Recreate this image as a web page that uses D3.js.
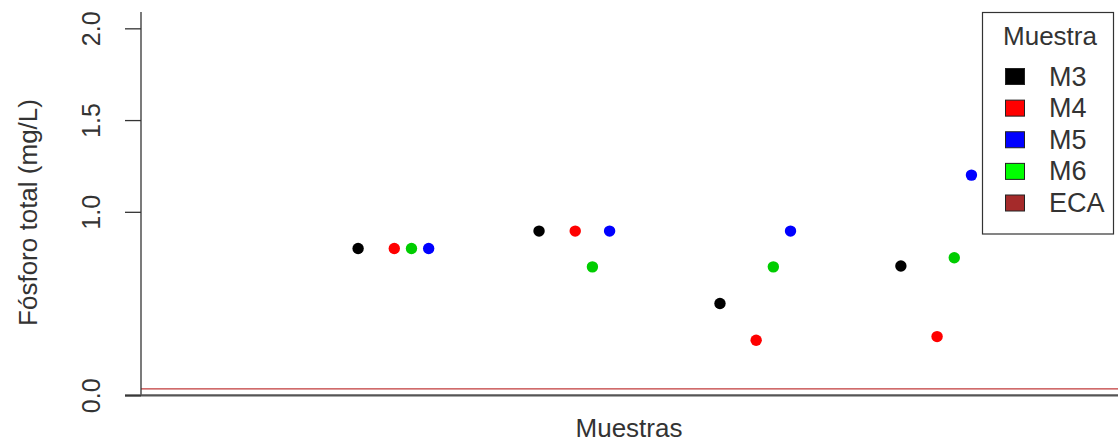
<!DOCTYPE html>
<html>
<head>
<meta charset="utf-8">
<script src="https://cdn.jsdelivr.net/npm/d3@7"></script>
<style>
  body { margin: 0; background: #fff; }
  svg { display: block; font-family: "Liberation Sans", Arial, sans-serif; }
</style>
</head>
<body>
<div id="chart"></div>
<script>
// data
const groups = [1, 2, 3, 4];
const series = ["M3", "M4", "M5", "M6"];
const valuesM3 = [0.80, 0.895, 0.50, 0.705];
const valuesM4 = [0.80, 0.895, 0.30, 0.32];
const valuesM5 = [0.80, 0.895, 0.895, 1.20];
const valuesM6 = [0.80, 0.70, 0.70, 0.75];
const offsets = [0, 0.2, 0.39, 0.295];
const ecaValue = 0.035;
const yTicks = [0, 1, 1.5, 2];
const legendLabels = ["M3", "M4", "M5", "M6", "ECA"];

const seriesValues = [valuesM3, valuesM4, valuesM5, valuesM6];
const pointColors = ["#000000", "#ff0000", "#0000ff", "#00cd00"];
const legendColors = ["#000000", "#ff0000", "#0000ff", "#00ff00", "#a52a2a"];

// chart dimensions
const width = 1118, height = 444;
const plot = { left: 141, right: 1118, top: 12, bottom: 395.3 };

const svg = d3.select("#chart")
  .append("svg")
  .attr("width", width)
  .attr("height", height);

// scales
const xScale = d3.scaleLinear()
  .domain([-0.2, 5.2])
  .range([plot.left, plot.right]);

const yScale = d3.scaleLinear()
  .domain([0, 2.089])
  .range([plot.bottom, plot.top]);

// ECA line
svg.append("line")
  .attr("x1", plot.left)
  .attr("x2", plot.right)
  .attr("y1", yScale(ecaValue))
  .attr("y2", yScale(ecaValue))
  .attr("stroke", "#c03a3a")
  .attr("stroke-width", 1.3);

// points
const points = [];
series.forEach((s, i) => {
  groups.forEach((g, j) => {
    points.push({ x: g + offsets[i], y: seriesValues[i][j], color: pointColors[i] });
  });
});

svg.append("g")
  .selectAll("circle")
  .data(points)
  .join("circle")
  .attr("cx", d => xScale(d.x))
  .attr("cy", d => yScale(d.y))
  .attr("r", 5.7)
  .attr("fill", d => d.color);

// box lines (bty = "l")
svg.append("line")
  .attr("x1", plot.left).attr("x2", plot.left)
  .attr("y1", plot.top).attr("y2", plot.bottom)
  .attr("stroke", "#333").attr("stroke-width", 1.3);

svg.append("line")
  .attr("x1", plot.left - 16).attr("x2", plot.right)
  .attr("y1", plot.bottom).attr("y2", plot.bottom)
  .attr("stroke", "#555").attr("stroke-width", 2.2);

// y axis
const yAxis = d3.axisLeft(yScale)
  .tickValues(yTicks)
  .tickSize(16)
  .tickFormat(d3.format(".1f"));

const yAxisG = svg.append("g")
  .attr("transform", `translate(${plot.left}, 0)`)
  .call(yAxis);

yAxisG.select(".domain").remove();
yAxisG.selectAll(".tick line").attr("stroke", "#333").attr("stroke-width", 1.3);
yAxisG.selectAll(".tick text")
  .attr("x", null)
  .attr("dy", null)
  .attr("transform", "translate(-41, 0) rotate(-90)")
  .attr("text-anchor", "middle")
  .attr("font-size", "25px")
  .attr("font-family", "Liberation Sans, Arial, sans-serif")
  .attr("fill", "#333");

// axis titles
svg.append("text")
  .attr("transform", `translate(37, 212.5) rotate(-90)`)
  .attr("text-anchor", "middle")
  .attr("font-size", "26px")
  .attr("fill", "#333")
  .text("Fósforo total (mg/L)");

svg.append("text")
  .attr("x", 629)
  .attr("y", 437)
  .attr("text-anchor", "middle")
  .attr("font-size", "26px")
  .attr("fill", "#333")
  .text("Muestras");

// legend
const legend = svg.append("g");

legend.append("rect")
  .attr("x", 982.5)
  .attr("y", 12.5)
  .attr("width", 131)
  .attr("height", 221.5)
  .attr("fill", "#fff")
  .attr("stroke", "#333")
  .attr("stroke-width", 1.2);

legend.append("text")
  .attr("x", 1050)
  .attr("y", 45)
  .attr("text-anchor", "middle")
  .attr("font-size", "26px")
  .attr("fill", "#333")
  .text("Muestra");

const rowY = d3.scaleLinear().domain([0, 4]).range([85.5, 212]);

const rows = legend.selectAll(".row")
  .data(legendLabels)
  .join("g")
  .attr("class", "row")
  .attr("transform", (d, i) => `translate(0, ${rowY(i)})`);

rows.append("rect")
  .attr("x", 1005.5)
  .attr("y", -17)
  .attr("width", 19)
  .attr("height", 16)
  .attr("fill", (d, i) => legendColors[i])
  .attr("stroke", "#222")
  .attr("stroke-width", 1);

rows.append("text")
  .attr("x", 1049)
  .attr("y", 0)
  .attr("font-size", "27px")
  .attr("fill", "#333")
  .text(d => d);
</script>
</body>
</html>
